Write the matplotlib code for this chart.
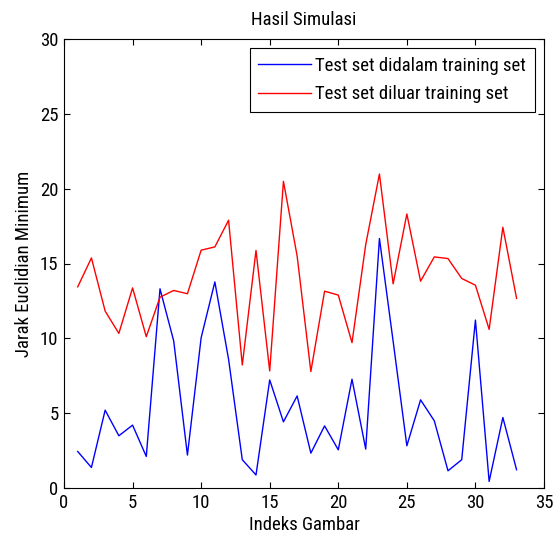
import matplotlib
matplotlib.use("Agg")
import matplotlib.pyplot as plt
from matplotlib import font_manager

names = {f.name for f in font_manager.fontManager.ttflist}
chosen = 'Liberation Sans'
for cand in ['Liberation Sans Narrow', 'DejaVu Sans Condensed', 'Roboto Condensed',
             'Open Sans Condensed', 'Noto Sans Condensed']:
    if cand in names:
        chosen = cand
        break
plt.rcParams['font.family'] = [chosen, 'DejaVu Sans']
FS = 13.5 if chosen != 'Liberation Sans' else 10.5

indeks = list(range(1, 34))
didalam = [2.44, 1.37, 5.2, 3.49, 4.2, 2.11, 13.31, 9.82, 2.2, 10.04,
           13.77, 8.6, 1.89, 0.87, 7.22, 4.42, 6.15, 2.33, 4.15, 2.55,
           7.27, 2.6, 16.67, 9.8, 2.82, 5.89, 4.49, 1.15, 1.89, 11.22,
           0.44, 4.71, 1.22]
diluar = [13.44, 15.37, 11.82, 10.33, 13.37, 10.11, 12.75, 13.2, 12.98, 15.89,
          16.11, 17.89, 8.22, 15.87, 7.82, 20.49, 15.5, 7.78, 13.15, 12.89,
          9.71, 16.26, 20.98, 13.64, 18.31, 13.82, 15.44, 15.33, 14.0, 13.55,
          10.6, 17.42, 12.67]
labels = ['Test set didalam training set', 'Test set diluar training set']

fig = plt.figure(figsize=(5.59, 5.40), dpi=100)
ax = fig.add_axes([64/559, 52/540, 480/559, 449/540])
ax.plot(indeks, didalam, color='#0000ff', lw=1.0, label=labels[0])
ax.plot(indeks, diluar, color='#ff0000', lw=1.0, label=labels[1])
ax.set_xlim(0, 35)
ax.set_ylim(0, 30)
ax.set_xticks(range(0, 36, 5))
ax.set_yticks(range(0, 31, 5))
ax.tick_params(direction='in', top=True, right=True, labelsize=FS, length=4, pad=4)
for s in ax.spines.values():
    s.set_linewidth(0.8)
ax.set_title('Hasil Simulasi', fontsize=FS, pad=10)
ax.set_xlabel('Indeks Gambar', fontsize=FS, labelpad=3)
ax.set_ylabel('Jarak Euclidian Minimum', fontsize=FS, labelpad=5)
leg = ax.legend(loc='upper right', fontsize=FS, fancybox=False, edgecolor='black',
                framealpha=1, borderaxespad=0.5, handlelength=2.8, handletextpad=0.25,
                labelspacing=0.55, borderpad=0.45)
leg.get_frame().set_linewidth(0.8)
fig.savefig('out.png', dpi=100)
